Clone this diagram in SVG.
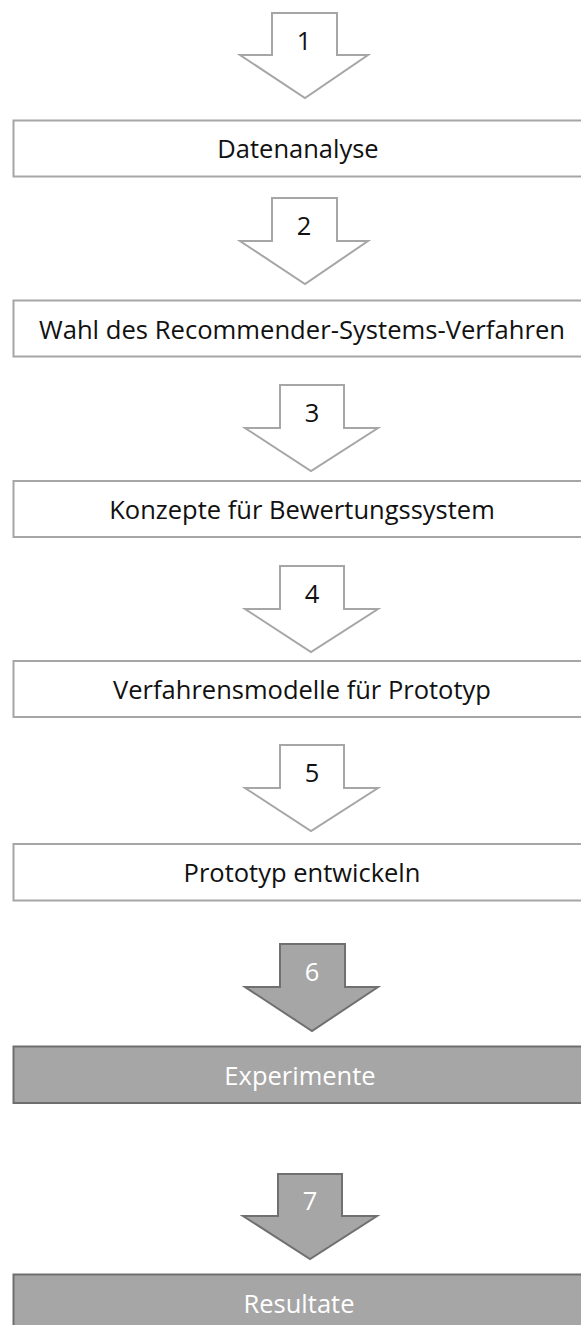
<svg xmlns="http://www.w3.org/2000/svg" width="581" height="1325" viewBox="0 0 581 1325">
  <style>
    .lbl { font-family: "Open Sans", "Noto Sans", sans-serif; font-size: 25.5px; text-anchor: middle; }
    .box { fill: #ffffff; stroke: #a6a6a6; stroke-width: 2; }
    .box-dark { fill: #a6a6a6; stroke: #6e6e6e; stroke-width: 2; }
    .arr { fill: #ffffff; stroke: #a6a6a6; stroke-width: 2; stroke-linejoin: miter; }
    .arr-dark { fill: #a6a6a6; stroke: #707070; stroke-width: 2; stroke-linejoin: miter; }
    .dark-txt { fill: #111111; }
    .light-txt { fill: #ffffff; }
  </style>

  <!-- block arrows between the steps, each with its step number -->
  <g id="connectors">
    <g id="arrow-1">
      <path class="arr" d="M272,13 H337 V55 H368 L305,98 L240,55 H272 Z"/>
      <text class="lbl dark-txt" x="304" y="50">1</text>
    </g>
    <g id="arrow-2">
      <path class="arr" d="M272,198 H337 V241 H368 L305,284 L240,241 H272 Z"/>
      <text class="lbl dark-txt" x="304" y="235">2</text>
    </g>
    <g id="arrow-3">
      <path class="arr" d="M280,385 H344 V428 H378 L311,471 L245,428 H280 Z"/>
      <text class="lbl dark-txt" x="312" y="422">3</text>
    </g>
    <g id="arrow-4">
      <path class="arr" d="M280,566 H344 V609 H378 L311,652 L245,609 H280 Z"/>
      <text class="lbl dark-txt" x="312" y="603">4</text>
    </g>
    <g id="arrow-5">
      <path class="arr" d="M280,745 H344 V788 H378 L311,831 L245,788 H280 Z"/>
      <text class="lbl dark-txt" x="312" y="782">5</text>
    </g>
    <g id="arrow-6">
      <path class="arr-dark" d="M280,944 H345 V987 H378 L312,1031 L245,987 H280 Z"/>
      <text class="lbl light-txt" x="312" y="981">6</text>
    </g>
    <g id="arrow-7">
      <path class="arr-dark" d="M278,1174 H342 V1216 H377 L310,1259 L243,1216 H278 Z"/>
      <text class="lbl light-txt" x="310" y="1210">7</text>
    </g>
  </g>

  <!-- process steps -->
  <g id="step-datenanalyse">
    <rect class="box" x="13.5" y="120.5" width="580" height="56"/>
    <text class="lbl dark-txt" x="298" y="158">Datenanalyse</text>
  </g>
  <g id="step-wahl">
    <rect class="box" x="13.5" y="300.5" width="580" height="56"/>
    <text class="lbl dark-txt" x="302" y="338.5" textLength="526" lengthAdjust="spacingAndGlyphs">Wahl des Recommender-Systems-Verfahren</text>
  </g>
  <g id="step-konzepte">
    <rect class="box" x="13.5" y="481" width="580" height="56"/>
    <text class="lbl dark-txt" x="302" y="519">Konzepte für Bewertungssystem</text>
  </g>
  <g id="step-verfahrensmodelle">
    <rect class="box" x="13.5" y="661" width="580" height="56"/>
    <text class="lbl dark-txt" x="302" y="699">Verfahrensmodelle für Prototyp</text>
  </g>
  <g id="step-prototyp">
    <rect class="box" x="13.5" y="844" width="580" height="56.5"/>
    <text class="lbl dark-txt" x="302" y="882">Prototyp entwickeln</text>
  </g>
  <g id="step-experimente">
    <rect class="box-dark" x="13.5" y="1046.5" width="580" height="56.5"/>
    <text class="lbl light-txt" x="300" y="1084.5">Experimente</text>
  </g>
  <g id="step-resultate">
    <rect class="box-dark" x="13.5" y="1274.5" width="580" height="60"/>
    <text class="lbl light-txt" x="299" y="1312.5">Resultate</text>
  </g>
</svg>
